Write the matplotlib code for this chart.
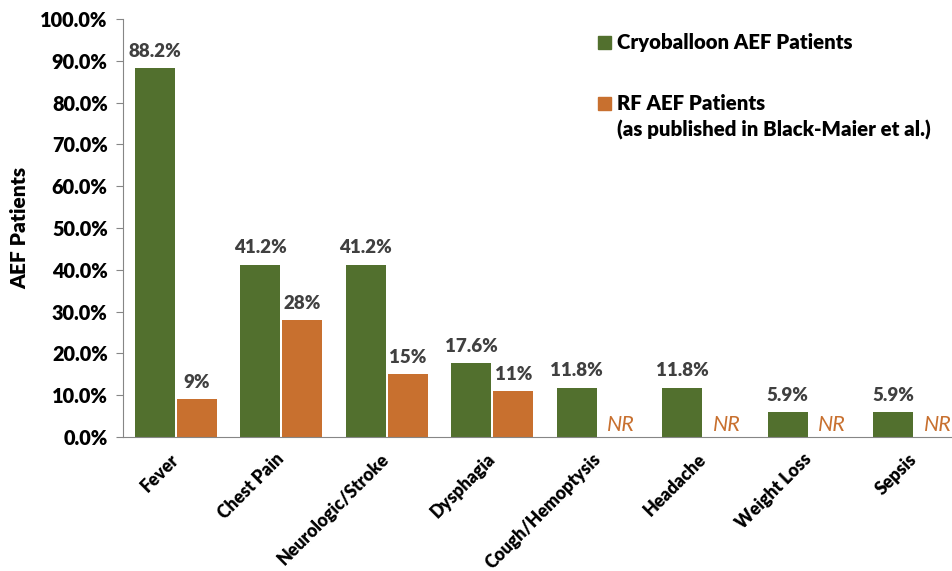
import matplotlib.pyplot as plt
import numpy as np
from matplotlib.patches import Rectangle

plt.rcParams['font.family'] = ['Lato', 'DejaVu Sans']

# data
categories = ['Fever', 'Chest Pain', 'Neurologic/Stroke', 'Dysphagia',
              'Cough/Hemoptysis', 'Headache', 'Weight Loss', 'Sepsis']
cryo = [88.2, 41.2, 41.2, 17.6, 11.8, 11.8, 5.9, 5.9]
cryo_labels = ['88.2%', '41.2%', '41.2%', '17.6%', '11.8%', '11.8%', '5.9%', '5.9%']
rf = [9, 28, 15, 11, None, None, None, None]
rf_labels = ['9%', '28%', '15%', '11%', 'NR', 'NR', 'NR', 'NR']

green = '#52702E'
orange = '#C8702F'
dark = '#404040'
wt = 'heavy'

fig = plt.figure(figsize=(9.53, 5.71), dpi=100)
ax = fig.add_axes([123 / 953, 1 - 437 / 571, 1 - 123 / 953, 418 / 571])

x = np.arange(len(categories))
w = 0.38
ax.bar(x - 0.2, cryo, w, color=green)
rf_vals = [v if v is not None else 0 for v in rf]
ax.bar(x + 0.2, rf_vals, w, color=orange)

for i in range(len(categories)):
    ax.text(x[i] - 0.2, cryo[i] + 2.0, cryo_labels[i], ha='center', va='bottom',
            fontsize=13.5, fontweight=wt, color=dark)
    if rf[i] is not None:
        ax.text(x[i] + 0.2, rf[i] + 2.0, rf_labels[i], ha='center', va='bottom',
                fontsize=13.5, fontweight=wt, color=dark)
    else:
        ax.text(x[i] + 0.22, 0.5, rf_labels[i], ha='center', va='bottom',
                fontsize=15.5, fontstyle='italic', color=orange)

ax.set_ylim(0, 100)
ax.set_xlim(-0.5, 7.5 - 14 / 105.4)
ax.set_yticks(np.arange(0, 101, 10))
ax.set_yticklabels(['%.1f%%' % v for v in np.arange(0, 101, 10)],
                   fontsize=14.3, fontweight=wt)
ax.set_xticks(x)
ax.set_xticklabels(categories, rotation=45, ha='right', va='center',
                   rotation_mode='anchor', fontsize=12.7, fontweight=wt)
ax.tick_params(axis='x', length=0, pad=14)
ax.tick_params(axis='y', length=5, color='#868686', pad=6)
for s in ['top', 'right']:
    ax.spines[s].set_visible(False)
for s in ['left', 'bottom']:
    ax.spines[s].set_color('#868686')
ax.set_ylabel('AEF Patients', fontsize=15, fontweight=wt, labelpad=8)

# legend
fig.patches.append(Rectangle((598 / 953, 1 - 49 / 571), 13 / 953, 13 / 571,
                             transform=fig.transFigure, color=green))
fig.patches.append(Rectangle((598 / 953, 1 - 110 / 571), 13 / 953, 13 / 571,
                             transform=fig.transFigure, color=orange))
fig.text(617 / 953, 1 - 42 / 571, 'Cryoballoon AEF Patients', fontsize=14.7,
         fontweight=wt, va='center')
fig.text(617 / 953, 1 - 103 / 571, 'RF AEF Patients', fontsize=14.7,
         fontweight=wt, va='center')
fig.text(617 / 953, 1 - 130 / 571, '(as published in Black-Maier et al.)',
         fontsize=14.7, fontweight=wt, va='center')

fig.savefig('out.png', dpi=100)
